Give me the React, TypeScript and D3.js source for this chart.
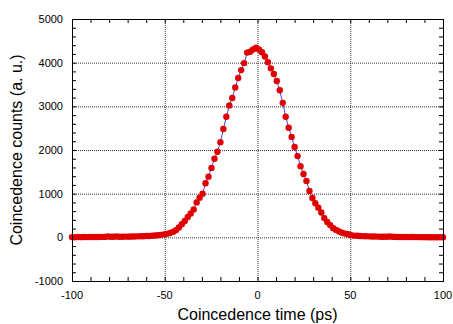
import React, { useRef, useEffect } from 'react';
import * as d3 from 'd3';

// time bins (ps), 1.6 ps wide from -100 to 100
const times: number[] = d3.range(0, 126).map(i => +(-100 + i * 1.6).toFixed(1));

const counts: number[] = [
  5, 3, 6, 4, 8, 5, 7, 6, 9, 8,
  11, 10, 18, 12, 14, 20, 13, 15, 17, 16,
  19, 20, 22, 24, 26, 29, 32, 36, 41, 48,
  57, 68, 80, 98, 125, 165, 225, 300, 375, 465,
  545, 640, 800, 905, 1000, 1240, 1390, 1590, 1800, 1960,
  2180, 2480, 2760, 3020, 3190, 3430, 3650, 3830, 3990, 4230,
  4250, 4300, 4340, 4300, 4240, 4140, 4010, 3870, 3740, 3580,
  3370, 3080, 2760, 2510, 2300, 2070, 1860, 1630, 1450, 1290,
  1060, 900, 780, 680, 570, 440, 350, 280, 210, 170,
  135, 105, 85, 70, 50, 40, 35, 30, 27, 24,
  22, 20, 18, 17, 15, 14, 12, 20, 15, 10,
  9, 8, 8, 7, 6, 6, 5, 5, 4, 4,
  3, 3, 2, 2, 2, 1,
];

const xTicks = [-100, -50, 0, 50, 100];
const yTicks = [-1000, 0, 1000, 2000, 3000, 4000, 5000];

const W = 453, H = 324;
const margin = { left: 72, top: 19, right: 10, bottom: 43 };

const App = () => {
  const svgRef = useRef<SVGSVGElement>(null);

  useEffect(() => {
    if (!svgRef.current) return;
    const svg = d3.select(svgRef.current);
    svg.selectAll('*').remove();

    const iw = W - margin.left - margin.right;
    const ih = H - margin.top - margin.bottom;
    const x = d3.scaleLinear().domain([-100, 100]).range([0, iw]);
    const y = d3.scaleLinear().domain([-1000, 5000]).range([ih, 0]);

    const g = svg.append('g').attr('transform', `translate(${margin.left},${margin.top})`);
    const data = times.map((t, i) => ({ t, c: counts[i] }));

    // dotted grid
    g.selectAll('.gx')
      .data(xTicks.filter(v => v > -100 && v < 100))
      .join('line')
      .attr('x1', d => x(d) + 0.5).attr('x2', d => x(d) + 0.5)
      .attr('y1', 0).attr('y2', ih)
      .attr('stroke', '#333').attr('stroke-dasharray', '1,1');
    g.selectAll('.gy')
      .data(yTicks.filter(v => v > -1000 && v < 5000))
      .join('line')
      .attr('y1', d => y(d) + 0.5).attr('y2', d => y(d) + 0.5)
      .attr('x1', 0).attr('x2', iw)
      .attr('stroke', '#333').attr('stroke-dasharray', '1,1');

    // inside ticks on all four sides
    const tl = 4;
    const xMinor = d3.range(-90, 100, 10);
    const yMinor = d3.range(-800, 5000, 200);
    xMinor.forEach(v => {
      g.append('line').attr('x1', x(v) + 0.5).attr('x2', x(v) + 0.5).attr('y1', ih).attr('y2', ih - tl).attr('stroke', '#000');
      g.append('line').attr('x1', x(v) + 0.5).attr('x2', x(v) + 0.5).attr('y1', 0).attr('y2', tl).attr('stroke', '#000');
    });
    yMinor.forEach(v => {
      g.append('line').attr('y1', y(v) + 0.5).attr('y2', y(v) + 0.5).attr('x1', 0).attr('x2', tl).attr('stroke', '#000');
      g.append('line').attr('y1', y(v) + 0.5).attr('y2', y(v) + 0.5).attr('x1', iw).attr('x2', iw - tl).attr('stroke', '#000');
    });

    // fit line
    g.append('path')
      .datum(data)
      .attr('fill', 'none')
      .attr('stroke', '#3344ee')
      .attr('stroke-width', 1)
      .attr('d', d3.line<{ t: number; c: number }>()
        .x(d => x(d.t))
        .y(d => y(d.c))
        .curve(d3.curveBasis));

    // data points
    g.selectAll('circle')
      .data(data)
      .join('circle')
      .attr('cx', d => x(d.t))
      .attr('cy', d => y(d.c))
      .attr('r', 3.2)
      .attr('fill', '#e00000');

    // frame
    g.append('rect')
      .attr('x', 0.5).attr('y', 0.5)
      .attr('width', iw).attr('height', ih)
      .attr('fill', 'none').attr('stroke', '#000');

    // tick labels
    g.selectAll('.xl')
      .data(xTicks)
      .join('text')
      .attr('x', d => x(d))
      .attr('y', ih + 18)
      .attr('text-anchor', 'middle')
      .style('font', '11px "Liberation Sans", Arial, sans-serif')
      .text(d => d);
    g.selectAll('.yl')
      .data(yTicks)
      .join('text')
      .attr('x', -9)
      .attr('y', d => y(d) + 4)
      .attr('text-anchor', 'end')
      .style('font', '11px "Liberation Sans", Arial, sans-serif')
      .text(d => d);

    // axis titles
    svg.append('text')
      .attr('x', margin.left + iw / 2)
      .attr('y', 320)
      .attr('text-anchor', 'middle')
      .style('font', '16px "Liberation Sans", Arial, sans-serif')
      .text('Coincedence time (ps)');
    svg.append('text')
      .attr('transform', `translate(22,${margin.top + ih / 2}) rotate(-90)`)
      .attr('text-anchor', 'middle')
      .style('font', '16px "Liberation Sans", Arial, sans-serif')
      .text('Coincedence counts (a. u.)');
  }, []);

  return (
    <svg
      ref={svgRef}
      width={W}
      height={H}
      style={{ position: 'absolute', left: 0, top: 0, background: '#fff' }}
    />
  );
};

export default App;
